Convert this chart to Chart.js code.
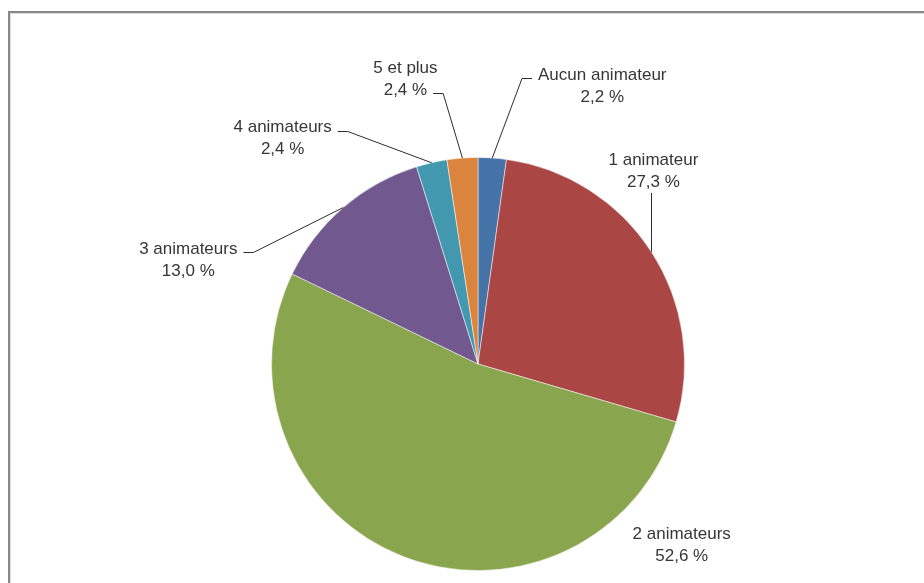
<!DOCTYPE html>
<html>
<head>
<meta charset="utf-8">
<script src="https://cdn.jsdelivr.net/npm/chart.js@4/dist/chart.umd.min.js"></script>
<style>
  html, body { margin: 0; padding: 0; background: #fff; }
  canvas { display: block; }
</style>
</head>
<body>
<canvas id="pie" width="924" height="583"></canvas>
<script>
// data
const categories  = ['Aucun animateur', '1 animateur', '2 animateurs', '3 animateurs', '4 animateurs', '5 et plus'];
const shares      = [2.2, 27.3, 52.6, 13.0, 2.4, 2.4];
const shareLabels = ['2,2 %', '27,3 %', '52,6 %', '13,0 %', '2,4 %', '2,4 %'];
const sliceColors = ['#4572A7', '#AA4643', '#89A54E', '#71588F', '#4198AF', '#DB843D'];

// where each label sits, relative to the middle of its slice's rim (first text line)
const labelPlacement = [
  { dx: 110,  dy: -83, leader: 'left',   line: 0 },
  { dx: 2,    dy: -92, leader: 'bottom', line: 1 },
  { dx: 278,  dy: -22, leader: 'none',   line: 0 },
  { dx: -155, dy: 42,  leader: 'right',  line: 0 },
  { dx: -149, dy: -35, leader: 'right',  line: 0 },
  { dx: -57,  dy: -90, leader: 'right',  line: 1 }
];

const textColor = '#363636';
const lineGap = 22;

const framePlugin = {
  id: 'frame',
  beforeDraw(chart) {
    const c = chart.ctx;
    c.save();
    c.fillStyle = '#fff';
    c.fillRect(0, 0, chart.width, chart.height);
    c.fillStyle = '#878787';
    c.fillRect(8, 11, chart.width - 8, 2);
    c.fillRect(8, 11, 2, chart.height - 11);
    c.fillStyle = '#dcdcdc';
    c.fillRect(10, 13, chart.width - 10, 1);
    c.fillRect(10, 13, 1, chart.height - 13);
    c.restore();
  }
};

const labelPlugin = {
  id: 'sliceLabels',
  afterDatasetsDraw(chart) {
    const c = chart.ctx;
    const meta = chart.getDatasetMeta(0);
    c.save();
    c.font = '17px "Liberation Sans", Arial, sans-serif';
    c.textAlign = 'center';
    c.textBaseline = 'middle';
    c.strokeStyle = '#2e2e2e';
    c.lineWidth = 1;
    meta.data.forEach((arc, i) => {
      const p = arc.getProps(['x', 'y', 'startAngle', 'endAngle', 'outerRadius'], true);
      const mid = (p.startAngle + p.endAngle) / 2;
      const ax = p.x + Math.cos(mid) * p.outerRadius;
      const ay = p.y + Math.sin(mid) * p.outerRadius;
      const pl = labelPlacement[i];
      const tx = ax + pl.dx;
      const ty = ay + pl.dy;
      const lines = [categories[i], shareLabels[i]];

      if (pl.leader !== 'none') {
        c.beginPath();
        if (pl.leader === 'bottom') {
          c.moveTo(Math.round(ax) + 0.5, ty + lineGap + 11);
          c.lineTo(Math.round(ax) + 0.5, ay);
        } else {
          const w = c.measureText(lines[pl.line]).width;
          const ly = Math.round(ty + pl.line * lineGap + 3) + 0.5;
          const dir = pl.leader === 'left' ? -1 : 1;
          const x0 = tx + dir * (w / 2 + 6);
          const x1 = x0 + dir * 10;
          c.moveTo(x0, ly);
          c.lineTo(x1, ly);
          c.lineTo(ax, ay);
        }
        c.stroke();
      }

      c.fillStyle = textColor;
      lines.forEach((t, k) => c.fillText(t, tx, ty + k * lineGap));
    });
    c.restore();
  }
};

new Chart(document.getElementById('pie').getContext('2d'), {
  type: 'pie',
  data: {
    labels: categories,
    datasets: [{
      data: shares,
      backgroundColor: sliceColors,
      borderColor: 'rgba(255,255,255,0.5)',
      borderWidth: 1
    }]
  },
  options: {
    responsive: false,
    animation: false,
    layout: { padding: { left: 271, right: 239, top: 157, bottom: 12 } },
    plugins: {
      legend: { display: false },
      tooltip: { enabled: false }
    }
  },
  plugins: [framePlugin, labelPlugin]
});
</script>
</body>
</html>
